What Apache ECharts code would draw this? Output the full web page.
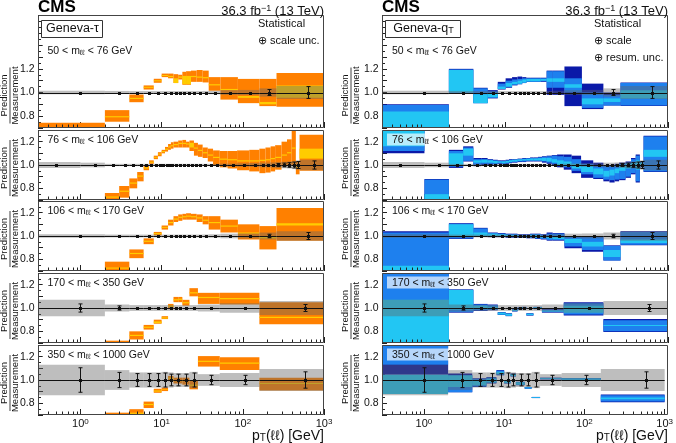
<!DOCTYPE html>
<html><head><meta charset="utf-8">
<script src="https://cdn.jsdelivr.net/npm/echarts/dist/echarts.min.js"></script>
<style>html,body{margin:0;padding:0;background:#fff}#c{width:676px;height:443px}</style>
</head><body><div id="c"></div>
<script>
// ---------------- DATA ----------------
// pT(ll) bin edges [GeV] per mass window
const edges50  = [0,2,4,6,8,10,12,14,16,18,20,23,27,32,38,53,87,160,260,1000];
const edges76  = [0,1,2,3,4,5,6,7,8,9,10,11,12,13,14,16,18,20,22,25,28,32,37,43,52,65,85,120,160,190,220,250,300,350,400,450,500,1000];
const edges106 = [0,2,4,6,8,10,12,14,16,18,20,23,27,32,38,53,87,160,260,1000];
const edges170 = [0,2,4,6,8,10,12,14,16,18,22,28,52,160,1000];
const edges350 = [0,2,4,6,8,10,12,14,18,22,28,52,160,1000];

// measurement: total uncertainty (grey band half width) and statistical error bars (half width)
const measUnc50 = [0.015,0.013,0.012,0.012,0.012,0.012,0.012,0.012,0.012,0.012,0.012,0.012,0.012,0.013,0.015,0.02,0.022,0.035,0.055];
const measErr50 = [0.004,0.003,0.003,0.003,0.003,0.003,0.003,0.003,0.003,0.003,0.003,0.003,0.003,0.004,0.005,0.007,0.01,0.025,0.05];
const measUnc76 = [0.025,0.02,0.01,0.01,0.01,0.01,0.01,0.01,0.01,0.01,0.01,0.01,0.01,0.01,0.01,0.01,0.01,0.01,0.01,0.01,0.01,0.01,0.01,0.01,0.012,0.012,0.015,0.017,0.02,0.02,0.022,0.025,0.028,0.03,0.035,0.04,0.045];
const measErr76 = [0.003,0.003,0.003,0.003,0.003,0.003,0.003,0.003,0.003,0.003,0.003,0.003,0.003,0.003,0.003,0.003,0.003,0.003,0.003,0.003,0.003,0.003,0.003,0.003,0.003,0.003,0.004,0.005,0.007,0.009,0.011,0.013,0.016,0.02,0.025,0.03,0.035];
const measUnc106 = [0.015,0.012,0.012,0.012,0.012,0.012,0.012,0.012,0.012,0.012,0.012,0.012,0.012,0.013,0.015,0.02,0.022,0.03,0.04];
const measErr106 = [0.005,0.004,0.004,0.004,0.004,0.004,0.004,0.004,0.004,0.004,0.004,0.004,0.004,0.005,0.006,0.008,0.01,0.015,0.03];
const measUnc170 = [0.07,0.03,0.025,0.025,0.025,0.025,0.025,0.025,0.025,0.025,0.025,0.03,0.04,0.06];
const measErr170 = [0.035,0.018,0.012,0.012,0.01,0.01,0.01,0.01,0.01,0.012,0.012,0.01,0.012,0.03];
const measUnc350 = [0.13,0.085,0.065,0.065,0.065,0.07,0.065,0.06,0.06,0.07,0.05,0.06,0.095];
const measErr350 = [0.105,0.065,0.055,0.055,0.055,0.06,0.05,0.05,0.05,0.06,0.04,0.04,0.07];

// Geneva-tau: [low, high] of statistical (+) scale band (orange) and statistical band (yellow)
const tauBand50 = [[0.60,0.745],[0.753,0.851],[0.918,0.983],[1.025,1.06],[1.082,1.116],[1.13,1.16],[1.12,1.16],[1.08,1.155],[1.11,1.15],[1.065,1.175],[1.065,1.18],[1.09,1.185],[1.09,1.19],[1.085,1.185],[1.015,1.13],[0.94,1.13],[0.91,1.115],[0.885,1.115],[0.88,1.165]];
const tauStat50 = [[0.62,0.63],[0.79,0.80],[0.945,0.955],[1.04,1.048],[1.095,1.103],[1.14,1.148],[1.13,1.14],[1.08,1.12],[1.125,1.135],[1.07,1.14],[1.07,1.14],[1.13,1.14],[1.125,1.135],[1.12,1.13],[1.06,1.07],[1.02,1.03],[0.955,0.97],[0.90,0.92],[0.955,1.06]];
const tauBand76 = [[0.5,0.6],[0.6,0.703],[0.69,0.76],[0.72,0.82],[0.80,0.885],[0.86,0.94],[0.955,0.995],[1.01,1.04],[1.05,1.08],[1.075,1.11],[1.10,1.13],[1.115,1.155],[1.13,1.18],[1.14,1.195],[1.15,1.20],[1.15,1.21],[1.15,1.215],[1.15,1.20],[1.12,1.21],[1.08,1.19],[1.07,1.175],[1.06,1.15],[1.03,1.14],[1.0,1.125],[0.98,1.12],[0.97,1.12],[0.955,1.125],[0.945,1.13],[0.93,1.14],[0.935,1.15],[0.945,1.16],[0.96,1.17],[0.99,1.2],[1.0,1.22],[1.0,1.32],[0.92,1.03],[0.95,1.26]];
const tauStat76 = [[0.5,0.6],[0.6,0.61],[0.72,0.73],[0.77,0.78],[0.84,0.85],[0.90,0.91],[0.97,0.98],[1.02,1.028],[1.062,1.07],[1.09,1.098],[1.11,1.12],[1.13,1.14],[1.15,1.16],[1.16,1.17],[1.17,1.18],[1.18,1.19],[1.18,1.19],[1.175,1.185],[1.15,1.19],[1.14,1.15],[1.12,1.13],[1.10,1.11],[1.08,1.09],[1.06,1.07],[1.045,1.055],[1.04,1.05],[1.03,1.04],[1.03,1.04],[1.035,1.045],[1.04,1.05],[1.05,1.06],[1.06,1.07],[1.08,1.09],[1.10,1.11],[1.14,1.15],[0.98,0.99],[1.055,1.14]];
const tauBand106 = [[0.55,0.65],[0.69,0.78],[0.81,0.885],[0.93,0.98],[1.005,1.035],[1.055,1.09],[1.09,1.14],[1.12,1.17],[1.13,1.185],[1.14,1.19],[1.14,1.195],[1.14,1.19],[1.12,1.185],[1.10,1.17],[1.055,1.17],[1.03,1.14],[0.97,1.10],[0.885,1.085],[0.96,1.24]];
const tauStat106 = [[0.56,0.57],[0.72,0.73],[0.845,0.855],[0.95,0.96],[1.015,1.025],[1.07,1.078],[1.11,1.12],[1.14,1.15],[1.155,1.165],[1.16,1.17],[1.165,1.175],[1.16,1.17],[1.15,1.16],[1.13,1.14],[1.11,1.12],[1.08,1.09],[1.02,1.03],[0.98,1.0],[1.09,1.11]];
const tauBand170 = [[0.55,0.65],[0.69,0.72],[0.73,0.80],[0.815,0.855],[0.865,0.90],[0.905,0.93],[0.99,1.035],[1.05,1.095],[1.05,1.095],[1.02,1.07],[1.10,1.17],[1.035,1.13],[1.03,1.13],[0.86,1.05]];
const tauStat170 = [[0.56,0.57],[0.70,0.705],[0.76,0.77],[0.83,0.84],[0.87,0.885],[0.91,0.92],[1.01,1.02],[1.065,1.075],[1.07,1.08],[1.04,1.05],[1.125,1.135],[1.085,1.095],[1.075,1.085],[0.915,0.925]];
const tauBand350 = [[0.55,0.65],[0.69,0.72],[0.69,0.75],[0.76,0.815],[0.89,0.925],[0.905,0.935],[0.99,1.035],[0.97,1.02],[0.96,1.02],[0.92,0.995],[1.115,1.205],[1.085,1.195],[0.91,1.02]];
const tauStat350 = [[0.56,0.57],[0.70,0.705],[0.71,0.72],[0.785,0.795],[0.90,0.91],[0.915,0.92],[1.01,1.02],[0.99,1.0],[0.99,1.0],[0.95,0.96],[1.155,1.165],[1.14,1.15],[0.965,0.975]];

// Geneva-qT: [low, high] of stat (+) scale (+) resum (navy), stat (+) scale (blue), statistical (cyan)
const qtResum50 = [[0.60,0.90],[1.0,1.20],[0.91,1.04],[0.95,1.02],[1.025,1.09],[1.04,1.12],[1.06,1.13],[1.07,1.135],[1.08,1.13],[1.09,1.125],[1.09,1.125],[1.09,1.125],[1.09,1.125],[0.98,1.185],[0.98,1.185],[0.885,1.22],[0.86,1.075],[0.89,1.0],[0.885,1.085]];
const qtScale50 = [[0.60,0.895],[1.0,1.195],[0.91,1.035],[0.955,1.01],[1.03,1.075],[1.045,1.10],[1.065,1.11],[1.07,1.115],[1.08,1.12],[1.09,1.12],[1.09,1.12],[1.09,1.12],[1.095,1.12],[1.04,1.18],[1.04,1.18],[1.0,1.12],[0.87,1.0],[0.89,0.98],[0.89,1.08]];
const qtStat50  = [[0.60,0.84],[1.0,1.19],[0.91,0.985],[0.96,0.99],[1.03,1.05],[1.05,1.08],[1.07,1.09],[1.075,1.10],[1.085,1.11],[1.095,1.115],[1.095,1.115],[1.095,1.115],[1.10,1.115],[1.09,1.12],[1.09,1.12],[1.04,1.07],[0.90,0.95],[0.92,0.95],[0.95,1.02]];
const qtResum76 = [[1.10,1.40],[0.60,0.88],[0.975,1.13],[1.03,1.16],[0.99,1.06],[1.0,1.06],[1.0,1.05],[1.005,1.045],[1.01,1.04],[1.005,1.04],[1.01,1.045],[1.015,1.05],[1.02,1.05],[1.02,1.05],[1.025,1.055],[1.025,1.06],[1.03,1.06],[1.03,1.065],[1.03,1.065],[1.03,1.07],[1.02,1.075],[1.01,1.08],[1.0,1.085],[0.98,1.09],[0.96,1.09],[0.93,1.08],[0.89,1.04],[0.88,1.02],[0.86,1.0],[0.85,1.0],[0.86,1.01],[0.87,1.02],[0.89,1.03],[0.92,1.06],[0.85,1.09],[0.98,1.03],[0.94,1.25]];
const qtScale76 = [[1.12,1.40],[0.60,0.875],[0.985,1.12],[1.035,1.15],[1.0,1.05],[1.01,1.05],[1.01,1.045],[1.01,1.04],[1.015,1.035],[1.01,1.035],[1.015,1.04],[1.02,1.045],[1.025,1.045],[1.025,1.048],[1.03,1.05],[1.03,1.055],[1.035,1.058],[1.035,1.06],[1.035,1.06],[1.035,1.065],[1.03,1.07],[1.02,1.075],[1.01,1.08],[0.995,1.075],[0.98,1.07],[0.95,1.05],[0.92,1.01],[0.89,0.99],[0.875,0.99],[0.87,0.99],[0.875,1.0],[0.88,1.01],[0.9,1.02],[0.93,1.05],[0.86,1.08],[0.985,1.025],[0.945,1.245]];
const qtStat76  = [[1.16,1.40],[0.60,0.75],[1.0,1.10],[1.08,1.14],[1.02,1.04],[1.02,1.045],[1.02,1.04],[1.015,1.035],[1.02,1.03],[1.015,1.03],[1.02,1.035],[1.025,1.04],[1.03,1.045],[1.03,1.045],[1.035,1.048],[1.04,1.05],[1.04,1.052],[1.04,1.055],[1.04,1.055],[1.04,1.058],[1.035,1.06],[1.03,1.06],[1.02,1.05],[1.0,1.04],[0.99,1.03],[0.97,1.01],[0.94,0.99],[0.92,0.97],[0.90,0.95],[0.91,0.96],[0.93,0.97],[0.95,1.0],[0.97,1.01],[0.98,1.02],[0.96,1.04],[0.99,1.02],[1.07,1.13]];
const qtResum106 = [[0.6,1.04],[0.975,1.11],[0.995,1.07],[0.99,1.03],[0.99,1.025],[0.985,1.02],[0.985,1.02],[0.985,1.015],[0.985,1.015],[0.98,1.015],[0.98,1.02],[0.975,1.02],[0.97,1.015],[0.96,1.03],[0.96,1.025],[0.895,1.0],[0.865,1.0],[0.79,0.92],[0.92,1.04]];
const qtScale106 = [[0.6,1.03],[0.98,1.105],[1.0,1.065],[0.995,1.025],[0.995,1.02],[0.99,1.015],[0.99,1.015],[0.99,1.01],[0.99,1.01],[0.985,1.01],[0.985,1.015],[0.98,1.015],[0.975,1.01],[0.965,1.02],[0.965,1.02],[0.91,0.99],[0.88,0.99],[0.79,0.915],[0.925,1.035]];
const qtStat106  = [[0.6,0.745],[0.995,1.10],[1.0,1.03],[1.0,1.02],[1.0,1.015],[0.995,1.01],[0.995,1.01],[0.995,1.005],[0.995,1.005],[0.99,1.005],[0.99,1.01],[0.985,1.01],[0.985,1.0],[0.98,1.0],[0.975,1.0],[0.94,0.975],[0.91,0.95],[0.82,0.88],[0.94,0.97]];
const qtResum170 = [[0.6,1.4],[0.96,1.16],[0.975,1.035],[0.98,1.03],[0.94,0.965],[0.93,0.955],[0.97,0.99],[0.985,1.005],[0.99,1.01],[0.935,0.955],[0.99,1.01],[0.96,0.99],[0.935,1.05],[0.795,0.905]];
const qtScale170 = [[0.6,1.4],[0.965,1.155],[0.98,1.03],[0.985,1.025],[0.942,0.962],[0.932,0.952],[0.972,0.988],[0.988,1.003],[0.992,1.008],[0.937,0.953],[0.992,1.008],[0.965,0.985],[0.945,1.04],[0.80,0.895]];
const qtStat170  = [[0.6,1.07],[0.985,1.155],[0.99,1.02],[0.99,1.01],[0.945,0.96],[0.935,0.95],[0.975,0.985],[0.99,1.0],[0.995,1.005],[0.94,0.95],[0.995,1.005],[0.97,0.98],[0.96,1.02],[0.845,0.855]];
const qtResum350 = [[1.045,1.4],[0.895,1.056],[0.94,1.015],[0.97,1.025],[1.04,1.085],[0.97,1.0],[1.03,1.055],[0.955,0.985],[0.925,0.94],[0.845,0.855],[1.005,1.02],[0.998,1.018],[0.81,0.875]];
const qtScale350 = [[1.13,1.4],[0.895,1.04],[0.945,1.01],[0.975,1.02],[1.045,1.08],[0.972,0.998],[1.032,1.052],[0.958,0.982],[0.927,0.938],[0.846,0.854],[1.007,1.018],[1.0,1.015],[0.815,0.87]];
const qtStat350  = [[0.88,1.045],[0.94,1.04],[0.955,1.0],[0.98,1.01],[1.05,1.07],[0.975,0.995],[1.035,1.05],[0.96,0.98],[0.929,0.936],[0.847,0.853],[1.01,1.016],[1.003,1.012],[0.835,0.85]];

// text
const massLabels = ['50 < m{s|ℓℓ} < 76 GeV','76 < m{s|ℓℓ} < 106 GeV','106 < m{s|ℓℓ} < 170 GeV','170 < m{s|ℓℓ} < 350 GeV','350 < m{s|ℓℓ} < 1000 GeV'];
const modelNames = ['Geneva-τ','Geneva-q{s|T}'];
const legendLines = [['Statistical','⊕ scale unc.'],['Statistical','⊕ scale','⊕ resum. unc.']];
const xTickValues = [1,10,100,1000];
const xTickLabels = ['10{e|0}','10{e|1}','10{e|2}','10{e|3}'];
const yTickValues = [0.8,1.0,1.2];
const yTickLabels = ['0.8','1.0','1.2'];

// ---------------- LAYOUT / STYLE ----------------
const FONT = '"Liberation Sans", Arial, Helvetica, sans-serif';
const XMIN = 0.3, XMAX = 1000;
const COL_LEFT = [38, 382], GW = 286;
const PT = [15,130,201,273,345], PH = [113,70,70,70,70], YMAX = [1.655,1.3,1.3,1.3,1.3];
const C = {orange:'#ff8000', yellow:'#ffcc00', navy:'#0a19a8', blue:'#1e80ee', cyan:'#22c6f3', grey:'rgba(100,100,100,0.42)', ink:'#111'};

const meas = [
  {edges:edges50, unc:measUnc50, err:measErr50},
  {edges:edges76, unc:measUnc76, err:measErr76},
  {edges:edges106, unc:measUnc106, err:measErr106},
  {edges:edges170, unc:measUnc170, err:measErr170},
  {edges:edges350, unc:measUnc350, err:measErr350}];
const tau = [[tauBand50,tauStat50],[tauBand76,tauStat76],[tauBand106,tauStat106],[tauBand170,tauStat170],[tauBand350,tauStat350]];
const qt = [[qtResum50,qtScale50,qtStat50],[qtResum76,qtScale76,qtStat76],[qtResum106,qtScale106,qtStat106],[qtResum170,qtScale170,qtStat170],[qtResum350,qtScale350,qtStat350]];

// minor tick positions of the log axis (2..9 per decade)
const MINOR = [];
for (let d = -1; d <= 2; d++) for (let k = 2; k <= 9; k++) { const v = k * Math.pow(10, d); if (v > XMIN && v < XMAX) MINOR.push(v); }

function boxSeries(gi, edges, ranges, color, z) {
  return {type:'custom', xAxisIndex:gi, yAxisIndex:gi, clip:true, z, silent:true,
    data: ranges.map((r,i)=>[Math.max(edges[i],XMIN), edges[i+1], r[0], r[1]]),
    encode:{x:[0,1], y:[2,3]},
    renderItem(params, api){
      const p0 = api.coord([api.value(0), api.value(3)]);
      const p1 = api.coord([api.value(1), api.value(2)]);
      return {type:'rect', shape:{x:p0[0], y:p0[1], width:p1[0]-p0[0], height:p1[1]-p0[1]}, style:{fill:color}};
    }};
}
function greySeries(gi, m) {
  return boxSeries(gi, m.edges, m.unc.map(u=>[1-u,1+u]), C.grey, 4);
}
function pointSeries(gi, m) {
  return {type:'custom', xAxisIndex:gi, yAxisIndex:gi, clip:true, z:6, silent:true,
    data: m.err.map((e,i)=>[Math.max(m.edges[i],XMIN), m.edges[i+1], (m.edges[i]+m.edges[i+1])/2, e]),
    encode:{x:[0,1,2]},
    renderItem(params, api){
      const lo=api.value(0), hi=api.value(1), xc=api.value(2), e=api.value(3);
      const a=api.coord([lo,1]), b=api.coord([hi,1]), c=api.coord([xc,1]);
      const t=api.coord([xc,1+e]), d=api.coord([xc,1-e]);
      const y0 = Math.round(c[1]) + 0.5, x0 = Math.round(c[0]) + 0.5;
      const st = {stroke:C.ink, lineWidth:1};
      const ch = [{type:'line', shape:{x1:a[0], y1:y0, x2:b[0], y2:y0}, style:st}];
      if (c[1] - t[1] > 1.5) {
        ch.push({type:'line', shape:{x1:x0, y1:t[1], x2:x0, y2:d[1]}, style:st});
        ch.push({type:'line', shape:{x1:x0-2, y1:t[1], x2:x0+2, y2:t[1]}, style:st});
        ch.push({type:'line', shape:{x1:x0-2, y1:d[1], x2:x0+2, y2:d[1]}, style:st});
      }
      ch.push({type:'rect', shape:{x:x0-1.5, y:y0-1.5, width:3, height:3}, style:{fill:C.ink}});
      return {type:'group', children:ch};
    }};
}
function minorTickSeries(gi) {
  return {type:'custom', xAxisIndex:gi, yAxisIndex:gi, clip:false, z:7, silent:true,
    data: MINOR.map(v=>[v, 0.7]), encode:{x:0, y:1},
    renderItem(params, api){
      const p = api.coord([api.value(0), api.value(1)]);
      const x = Math.round(p[0]) + 0.5;
      return {type:'line', shape:{x1:x, y1:p[1], x2:x, y2:p[1]-3.5}, style:{stroke:'#222', lineWidth:1}};
    }};
}

const grid=[], xAxis=[], yAxis=[], series=[], graphic=[];
for (let c = 0; c < 2; c++) {
  for (let p = 0; p < 5; p++) {
    const gi = c*5 + p;
    grid.push({left:COL_LEFT[c], top:PT[p], width:GW, height:PH[p], show:false});
    xAxis.push({type:'log', logBase:10, gridIndex:gi, min:XMIN, max:XMAX,
      axisLine:{show:false}, splitLine:{show:false},
      axisTick:{show:true, inside:true, length:6, lineStyle:{color:'#222'}},
      axisLabel:{show:p===4, margin:3, color:C.ink, fontFamily:FONT, fontSize:11, showMinLabel:true, showMaxLabel:true,
        formatter:(v)=>{ const i = xTickValues.findIndex(t=>Math.abs(t-v)/t < 1e-6); return i < 0 ? '' : xTickLabels[i]; },
        rich:{e:{fontSize:8, lineHeight:8, verticalAlign:'top', fontFamily:FONT, color:C.ink}}}});
    yAxis.push({type:'value', gridIndex:gi, min:0.7, max:YMAX[p], interval:0.1,
      axisLine:{show:false}, splitLine:{show:false},
      axisTick:{show:true, inside:true, length:5, lineStyle:{color:'#222'}},
      minorTick:{show:true, splitNumber:2, length:3, lineStyle:{color:'#222'}},
      axisLabel:{margin:3.5, color:C.ink, fontFamily:FONT, fontSize:10.5, showMinLabel:true, showMaxLabel:true,
        formatter:(v)=>{ const i = yTickValues.findIndex(t=>Math.abs(t-v) < 1e-6); return i < 0 ? '' : yTickLabels[i]; }}});
    const m = meas[p];
    if (c === 0) {
      series.push(boxSeries(gi, m.edges, tau[p][0], C.orange, 2));
      series.push(boxSeries(gi, m.edges, tau[p][1], C.yellow, 3));
    } else {
      series.push(boxSeries(gi, m.edges, qt[p][0], C.navy, 2));
      series.push(boxSeries(gi, m.edges, qt[p][1], C.blue, 2));
      series.push(boxSeries(gi, m.edges, qt[p][2], C.cyan, 3));
    }
    series.push(greySeries(gi, m));
    series.push(pointSeries(gi, m));
    series.push(minorTickSeries(gi));

    // frame
    graphic.push({type:'rect', silent:true, z:100, shape:{x:COL_LEFT[c]+0.5, y:PT[p]+0.5, width:GW-1, height:PH[p]-1},
      style:{fill:'none', stroke:'#444', lineWidth:1}});
    // mass label
    const ly = p === 0 ? 51 : PT[p] + 9.5;
    graphic.push({type:'text', silent:true, z:101, x:COL_LEFT[c] + (c===0 ? 4.5 : 5), y:ly,
      style:{text:massLabels[p], fill:C.ink, font:'10.5px '+FONT, align:'left', verticalAlign:'middle', textAlign:'left', textVerticalAlign:'middle',
        backgroundColor:'rgba(255,255,255,0.68)', padding:[1,2,0,5],
        rich:{s:{fontSize:7.5, lineHeight:8, verticalAlign:'bottom', fontFamily:FONT, fill:C.ink}}}});
    // y-axis title (Prediction / Measurement)
    const cy = ((p===0) ? (PT[0] + (YMAX[0]-1)/(YMAX[0]-0.7)*PH[0]) : (PT[p]+PH[p]/2)) + 3;
    graphic.push({type:'group', silent:true, z:101, x:(c===0 ? 10 : 351), y:cy, rotation:Math.PI/2, children:[
      {type:'text', x:0, y:-0.5, style:{text:'Prediction', fill:C.ink, font:'9.5px '+FONT, align:'center', verticalAlign:'bottom', textAlign:'center', textVerticalAlign:'bottom'}},
      {type:'line', shape:{x1:-28, y1:0, x2:28, y2:0}, style:{stroke:C.ink, lineWidth:0.8}},
      {type:'text', x:0, y:0.8, style:{text:'Measurement', fill:C.ink, font:'9.5px '+FONT, align:'center', verticalAlign:'top', textAlign:'center', textVerticalAlign:'top'}}
    ]});
  }
  const L = COL_LEFT[c], R = COL_LEFT[c] + GW;
  // CMS + lumi
  graphic.push({type:'text', silent:true, z:101, x:L, y:7.5, style:{text:'CMS', fill:'#000', font:'bold 17px '+FONT, align:'left', verticalAlign:'middle', textAlign:'left', textVerticalAlign:'middle'}});
  graphic.push({type:'text', silent:true, z:101, x:R, y:11, style:{text:'36.3 fb{e|−1} (13 TeV)', fill:C.ink, font:'13px '+FONT, align:'right', verticalAlign:'middle', textAlign:'right', textVerticalAlign:'middle',
    rich:{e:{fontSize:9, lineHeight:9, verticalAlign:'top', fontFamily:FONT, fill:C.ink}}}});
  // model box
  const bw = c === 0 ? 61 : 75;
  graphic.push({type:'rect', silent:true, z:101, shape:{x:L+3.5, y:20.5, width:bw, height:17}, style:{fill:'#fff', stroke:'#333', lineWidth:1}});
  graphic.push({type:'text', silent:true, z:102, x:L+4+bw/2, y:29, style:{text:modelNames[c], fill:C.ink, font:'12.5px '+FONT, align:'center', verticalAlign:'middle', textAlign:'center', textVerticalAlign:'middle',
    rich:{s:{fontSize:9, lineHeight:9, verticalAlign:'bottom', fontFamily:FONT, fill:C.ink}}}});
  // legend text
  legendLines[c].forEach((t,i)=>{
    graphic.push({type:'text', silent:true, z:101, x:(c===0 ? 258 : 594), y:24 + 17*i, style:{text:t, fill:C.ink, font:'11px '+FONT, align:'left', verticalAlign:'middle', textAlign:'left', textVerticalAlign:'middle'}});
  });
  // x-axis title
  graphic.push({type:'text', silent:true, z:101, x:R, y:436, style:{text:'p{s|T}(ℓℓ) [GeV]', fill:C.ink, font:'14px '+FONT, align:'right', verticalAlign:'middle', textAlign:'right', textVerticalAlign:'middle',
    rich:{s:{fontSize:10, lineHeight:10, verticalAlign:'bottom', fontFamily:FONT, fill:C.ink}}}});
}

const chart = echarts.init(document.getElementById('c'), null, {renderer:'canvas'});
chart.setOption({animation:false, backgroundColor:'#fff', grid, xAxis, yAxis, series, graphic});
</script></body></html>
